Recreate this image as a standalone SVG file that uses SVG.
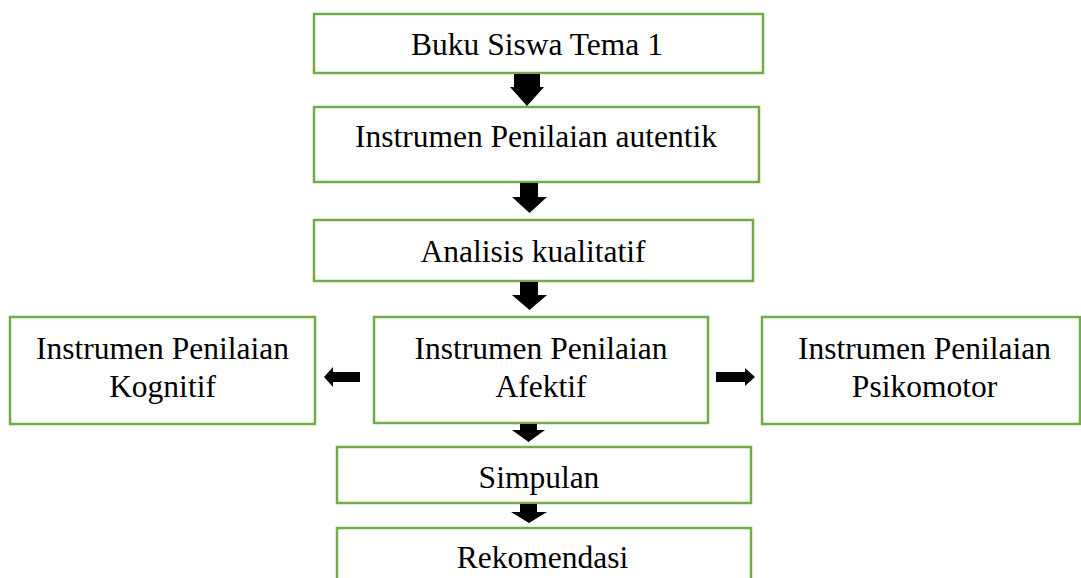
<svg xmlns="http://www.w3.org/2000/svg" width="1081" height="578" viewBox="0 0 1081 578">
<style>
.box{fill:#fff;stroke:#70AD47;stroke-width:2.5}
.t{font-family:"Liberation Serif","Times New Roman",serif;font-size:31.5px;fill:#000;text-anchor:middle}
.ar{fill:#000}
</style>
<rect width="1081" height="578" fill="#fff"/>
<g id="n1"><rect class="box" x="314" y="14" width="449" height="59"/><text class="t" x="537" y="55">Buku Siswa Tema 1</text></g>
<g id="n2"><rect class="box" x="314" y="107" width="445" height="75"/><text class="t" x="536" y="147">Instrumen Penilaian autentik</text></g>
<g id="n3"><rect class="box" x="314" y="220" width="439" height="61"/><text class="t" x="533" y="262">Analisis kualitatif</text></g>
<g id="n4"><rect class="box" x="374" y="317" width="334" height="106"/><text class="t" x="541" y="359">Instrumen Penilaian</text><text class="t" x="541" y="397">Afektif</text></g>
<g id="n5"><rect class="box" x="10" y="317" width="305" height="107"/><text class="t" x="162.5" y="359">Instrumen Penilaian</text><text class="t" x="162.5" y="397">Kognitif</text></g>
<g id="n6"><rect class="box" x="762" y="317" width="318" height="107"/><text class="t" x="924.5" y="359">Instrumen Penilaian</text><text class="t" x="924.5" y="397">Psikomotor</text></g>
<g id="n7"><rect class="box" x="337" y="447" width="414" height="56"/><text class="t" x="539" y="488">Simpulan</text></g>
<g id="n8"><rect class="box" x="337" y="528" width="414" height="60"/><text class="t" x="542.5" y="568">Rekomendasi</text></g>
<g id="connectors">
<polygon class="ar" points="514,74 540,74 540,87 544,87 527,106 510,87 514,87"/>
<polygon class="ar" points="520,183 538,183 538,197 547,197 529.5,213 512,197 520,197"/>
<polygon class="ar" points="520,282 538,282 538,295 547,295 529.5,310 512,295 520,295"/>
<polygon class="ar" points="520,424 537,424 537,430 545,430 528.5,442 512,430 520,430"/>
<polygon class="ar" points="520,504 537,504 537,512 547,512 529,523 511,512 520,512"/>
<polygon class="ar" points="360,372 333,372 333,367 324,377 333,387 333,382 360,382"/>
<polygon class="ar" points="716,372 745,372 745,368 755,377 745,386 745,382 716,382"/>
</g>
</svg>
